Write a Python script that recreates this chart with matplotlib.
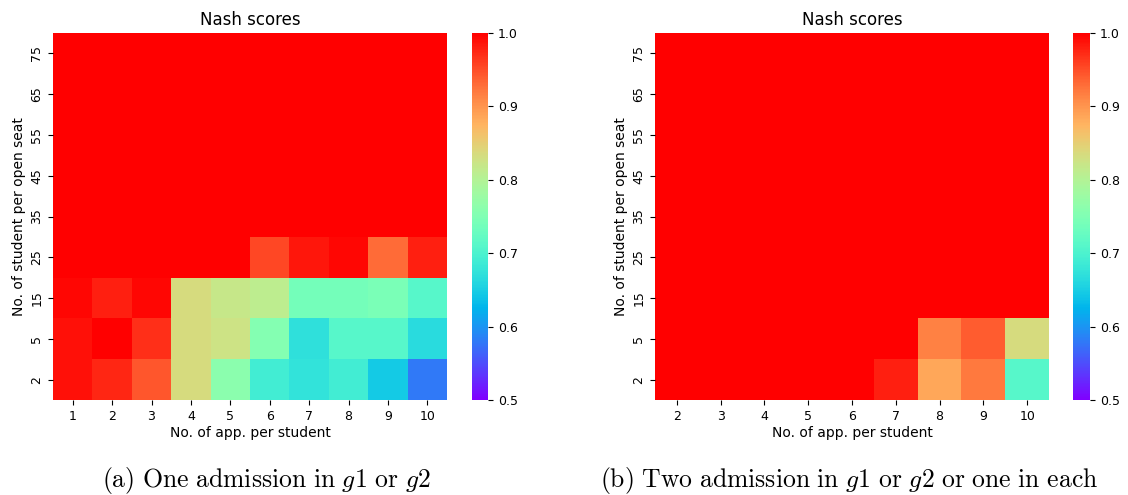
import numpy as np
import matplotlib
matplotlib.use("Agg")
import matplotlib.pyplot as plt

plt.rcParams['mathtext.fontset'] = 'cm'

# rows from top to bottom
y_labels = ['75', '65', '55', '45', '35', '25', '15', '5', '2']
x_left = ['1', '2', '3', '4', '5', '6', '7', '8', '9', '10']
x_right = ['2', '3', '4', '5', '6', '7', '8', '9', '10']

# (a) One admission in g1 or g2
nash_a = [
    [1.0, 1.0, 1.0, 1.0, 1.0, 1.0, 1.0, 1.0, 1.0, 1.0],
    [1.0, 1.0, 1.0, 1.0, 1.0, 1.0, 1.0, 1.0, 1.0, 1.0],
    [1.0, 1.0, 1.0, 1.0, 1.0, 1.0, 1.0, 1.0, 1.0, 1.0],
    [1.0, 1.0, 1.0, 1.0, 1.0, 1.0, 1.0, 1.0, 1.0, 1.0],
    [1.0, 1.0, 1.0, 1.0, 1.0, 1.0, 1.0, 1.0, 1.0, 1.0],
    [1.0, 1.0, 1.0, 1.0, 1.0, 0.955, 0.985, 0.995, 0.93, 0.98],
    [0.995, 0.98, 0.995, 0.835, 0.82, 0.81, 0.74, 0.74, 0.745, 0.71],
    [0.99, 1.0, 0.97, 0.835, 0.825, 0.755, 0.67, 0.71, 0.71, 0.665],
    [0.99, 0.975, 0.945, 0.835, 0.76, 0.69, 0.675, 0.69, 0.645, 0.58],
]

# (b) Two admission in g1 or g2 or one in each
nash_b = [
    [1.0, 1.0, 1.0, 1.0, 1.0, 1.0, 1.0, 1.0, 1.0],
    [1.0, 1.0, 1.0, 1.0, 1.0, 1.0, 1.0, 1.0, 1.0],
    [1.0, 1.0, 1.0, 1.0, 1.0, 1.0, 1.0, 1.0, 1.0],
    [1.0, 1.0, 1.0, 1.0, 1.0, 1.0, 1.0, 1.0, 1.0],
    [1.0, 1.0, 1.0, 1.0, 1.0, 1.0, 1.0, 1.0, 1.0],
    [1.0, 1.0, 1.0, 1.0, 1.0, 1.0, 1.0, 1.0, 1.0],
    [1.0, 1.0, 1.0, 1.0, 1.0, 1.0, 1.0, 1.0, 1.0],
    [1.0, 1.0, 1.0, 1.0, 1.0, 1.0, 0.915, 0.94, 0.835],
    [1.0, 1.0, 1.0, 1.0, 1.0, 0.98, 0.885, 0.92, 0.71],
]

captions = [r'$\mathrm{(a)\ One\ admission\ in\ }g1\mathrm{\ or\ }g2$',
            r'$\mathrm{(b)\ Two\ admission\ in\ }g1\mathrm{\ or\ }g2\mathrm{\ or\ one\ in\ each}$']

fig = plt.figure(figsize=(11.28, 4.95), dpi=100)

W, H = 1128, 495
layout = [
    # heatmap [x0, x1], colorbar [x0, x1] in pixels, caption centre
    ((53, 447), (472, 488), nash_a, x_left, captions[0], 266),
    ((655, 1049), (1073, 1090), nash_b, x_right, captions[1], 849),
]
top, bottom = 33, 400

for (hx0, hx1), (cx0, cx1), data, xlabs, cap, capx in layout:
    arr = np.array(data)
    ax = fig.add_axes([hx0 / W, 1 - bottom / H, (hx1 - hx0) / W, (bottom - top) / H])
    mesh = ax.pcolormesh(arr, cmap='rainbow', vmin=0.5, vmax=1.0)
    ax.set_xlim(0, arr.shape[1])
    ax.set_ylim(arr.shape[0], 0)
    ax.set_xticks(np.arange(arr.shape[1]) + 0.5)
    ax.set_xticklabels(xlabs, fontsize=9)
    ax.set_yticks(np.arange(arr.shape[0]) + 0.5)
    ax.set_yticklabels(y_labels, fontsize=9, rotation=90, va='center')
    for s in ax.spines.values():
        s.set_visible(False)
    ax.set_title('Nash scores', fontsize=12, pad=6)
    ax.set_xlabel('No. of app. per student', fontsize=10, labelpad=2)
    ax.set_ylabel('No. of student per open seat', fontsize=10, labelpad=3)

    cax = fig.add_axes([cx0 / W, 1 - bottom / H, (cx1 - cx0) / W, (bottom - top) / H])
    cb = fig.colorbar(mesh, cax=cax)
    cb.outline.set_visible(False)
    cb.set_ticks([0.5, 0.6, 0.7, 0.8, 0.9, 1.0])
    cb.ax.tick_params(labelsize=9)

    fig.text(capx / W, 1 - 481 / H, cap, fontsize=18.5, ha='center', va='center')

fig.savefig('out.png', dpi=100)
